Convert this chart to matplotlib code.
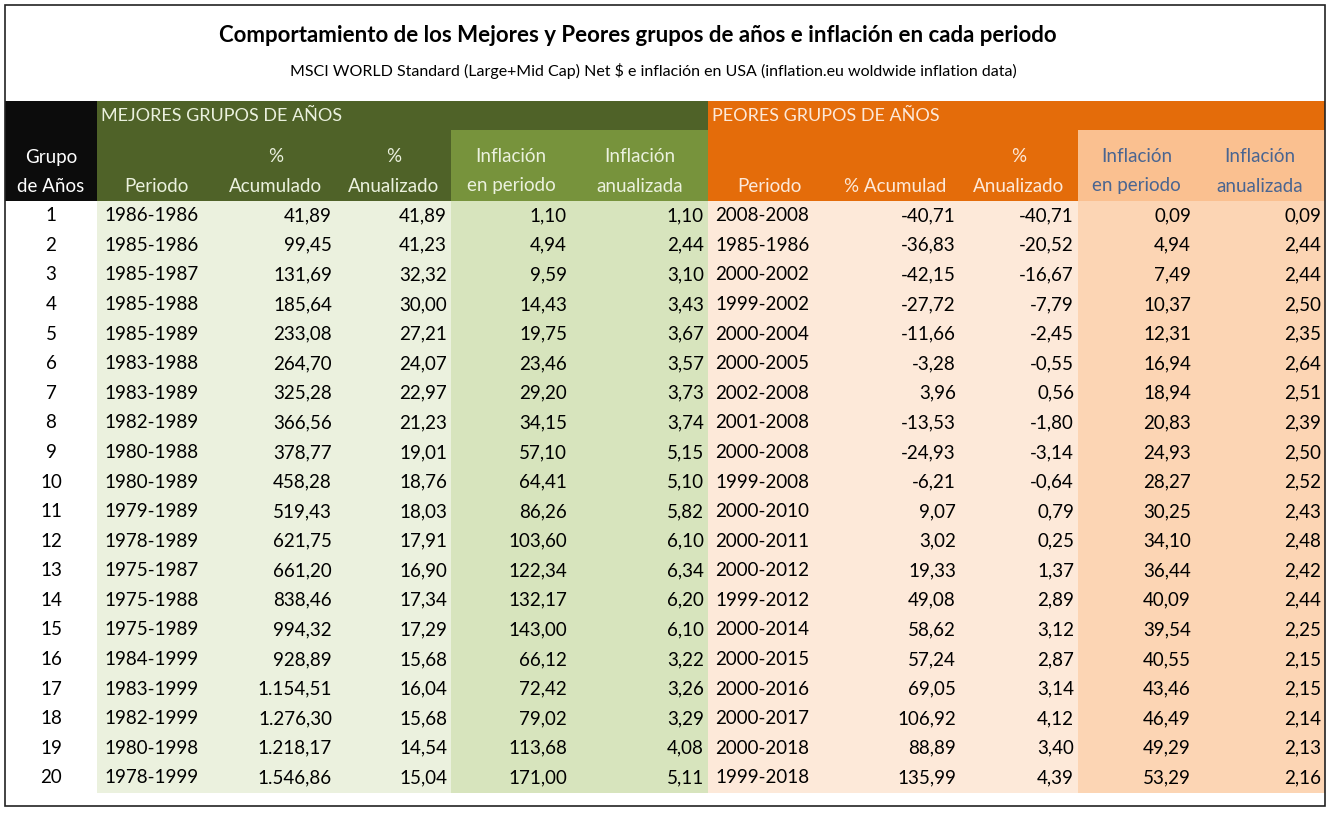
import matplotlib
matplotlib.use("Agg")
import matplotlib.pyplot as plt
from matplotlib.patches import Rectangle

plt.rcParams['font.family'] = ['Lato', 'DejaVu Sans']

title = "Comportamiento de los Mejores y Peores grupos de años e inflación en cada periodo"
subtitle = "MSCI WORLD Standard (Large+Mid Cap) Net $ e inflación en USA (inflation.eu woldwide inflation data)"

grupos = list(range(1, 21))
mej_periodo = ["1986-1986", "1985-1986", "1985-1987", "1985-1988", "1985-1989", "1983-1988", "1983-1989",
               "1982-1989", "1980-1988", "1980-1989", "1979-1989", "1978-1989", "1975-1987", "1975-1988",
               "1975-1989", "1984-1999", "1983-1999", "1982-1999", "1980-1998", "1978-1999"]
mej_acum = ["41,89", "99,45", "131,69", "185,64", "233,08", "264,70", "325,28", "366,56", "378,77", "458,28",
            "519,43", "621,75", "661,20", "838,46", "994,32", "928,89", "1.154,51", "1.276,30", "1.218,17", "1.546,86"]
mej_anual = ["41,89", "41,23", "32,32", "30,00", "27,21", "24,07", "22,97", "21,23", "19,01", "18,76",
             "18,03", "17,91", "16,90", "17,34", "17,29", "15,68", "16,04", "15,68", "14,54", "15,04"]
mej_infl = ["1,10", "4,94", "9,59", "14,43", "19,75", "23,46", "29,20", "34,15", "57,10", "64,41",
            "86,26", "103,60", "122,34", "132,17", "143,00", "66,12", "72,42", "79,02", "113,68", "171,00"]
mej_infl_an = ["1,10", "2,44", "3,10", "3,43", "3,67", "3,57", "3,73", "3,74", "5,15", "5,10",
               "5,82", "6,10", "6,34", "6,20", "6,10", "3,22", "3,26", "3,29", "4,08", "5,11"]
peo_periodo = ["2008-2008", "1985-1986", "2000-2002", "1999-2002", "2000-2004", "2000-2005", "2002-2008",
               "2001-2008", "2000-2008", "1999-2008", "2000-2010", "2000-2011", "2000-2012", "1999-2012",
               "2000-2014", "2000-2015", "2000-2016", "2000-2017", "2000-2018", "1999-2018"]
peo_acum = ["-40,71", "-36,83", "-42,15", "-27,72", "-11,66", "-3,28", "3,96", "-13,53", "-24,93", "-6,21",
            "9,07", "3,02", "19,33", "49,08", "58,62", "57,24", "69,05", "106,92", "88,89", "135,99"]
peo_anual = ["-40,71", "-20,52", "-16,67", "-7,79", "-2,45", "-0,55", "0,56", "-1,80", "-3,14", "-0,64",
             "0,79", "0,25", "1,37", "2,89", "3,12", "2,87", "3,14", "4,12", "3,40", "4,39"]
peo_infl = ["0,09", "4,94", "7,49", "10,37", "12,31", "16,94", "18,94", "20,83", "24,93", "28,27",
            "30,25", "34,10", "36,44", "40,09", "39,54", "40,55", "43,46", "46,49", "49,29", "53,29"]
peo_infl_an = ["0,09", "2,44", "2,44", "2,50", "2,35", "2,64", "2,51", "2,39", "2,50", "2,52",
               "2,43", "2,48", "2,42", "2,44", "2,25", "2,15", "2,15", "2,14", "2,13", "2,16"]

columns = [[str(g) for g in grupos], mej_periodo, mej_acum, mej_anual, mej_infl, mej_infl_an,
           peo_periodo, peo_acum, peo_anual, peo_infl, peo_infl_an]
headers = [("Grupo", "de Años"), ("", "Periodo"), ("%", "Acumulado"), ("%", "Anualizado"),
           ("Inflación", "en periodo"), ("Inflación", "anualizada"), ("", "Periodo"),
           ("", "% Acumulad"), ("%", "Anualizado"), ("Inflación", "en periodo"), ("Inflación", "anualizada")]

edges = [5, 97, 215, 336, 451, 571, 708, 830, 960, 1078, 1195, 1325]
hdr_bg = ["#0c0c0c", "#4f6228", "#4f6228", "#4f6228", "#77933c", "#77933c",
          "#e46c0a", "#e46c0a", "#e46c0a", "#fac090", "#fac090"]
hdr_fg = ["white", "#ebf1de", "#ebf1de", "#ebf1de", "#ebf1de", "#ebf1de",
          "#fde9d9", "#fde9d9", "#fde9d9", "#4a6591", "#4a6591"]
data_bg = ["white", "#ebf1de", "#ebf1de", "#ebf1de", "#d7e4bd", "#d7e4bd",
           "#fde9d9", "#fde9d9", "#fde9d9", "#fcd5b4", "#fcd5b4"]

fig = plt.figure(figsize=(13.32, 8.16), dpi=100)
ax = fig.add_axes([0, 0, 1, 1])
ax.set_xlim(0, 1332)
ax.set_ylim(816, 0)
ax.axis("off")

y_top, y_sub, y_data, row_h = 101, 130, 201, 29.58
nrows = len(grupos)
y_end = y_data + nrows * row_h

# group header bands
ax.add_patch(Rectangle((edges[0], y_top), edges[1] - edges[0], y_data - y_top, color=hdr_bg[0], lw=0))
ax.add_patch(Rectangle((edges[1], y_top), edges[6] - edges[1], y_sub - y_top, color="#4f6228", lw=0))
ax.add_patch(Rectangle((edges[6], y_top), edges[11] - edges[6], y_sub - y_top, color="#e46c0a", lw=0))
ax.text(101, 116, "MEJORES GRUPOS DE AÑOS", fontsize=13, color="#ebf1de", va="center")
ax.text(712, 116, "PEORES GRUPOS DE AÑOS", fontsize=13, color="#fde9d9", va="center")

for i in range(len(columns)):
    x0, x1 = edges[i], edges[i + 1]
    if i > 0:
        ax.add_patch(Rectangle((x0, y_sub), x1 - x0, y_data - y_sub, color=hdr_bg[i], lw=0))
    ax.add_patch(Rectangle((x0, y_data), x1 - x0, y_end - y_data, color=data_bg[i], lw=0))
    xc = (x0 + x1) / 2
    top, bot = headers[i]
    ax.text(xc, 157, top, ha="center", va="center", fontsize=13.5, color=hdr_fg[i])
    ax.text(xc, 186, bot, ha="center", va="center", fontsize=13.5, color=hdr_fg[i])
    for r, val in enumerate(columns[i]):
        y = y_data + (r + 0.5) * row_h
        if i in (0,):
            ax.text(51, y, val, ha="center", va="center", fontsize=13.5)
        elif i in (1, 6):
            ax.text(x0 + 7, y, val, ha="left", va="center", fontsize=13.5)
        else:
            ax.text(x1 - 4, y, val, ha="right", va="center", fontsize=13.5)

ax.text(638, 36, title, ha="center", va="center", fontsize=16, fontweight="bold")
ax.text(653, 71, subtitle, ha="center", va="center", fontsize=11.5)
ax.add_patch(Rectangle((5, 5), 1320, 801, fill=False, ec="#222222", lw=1.2))

fig.savefig("out.png", dpi=100)
